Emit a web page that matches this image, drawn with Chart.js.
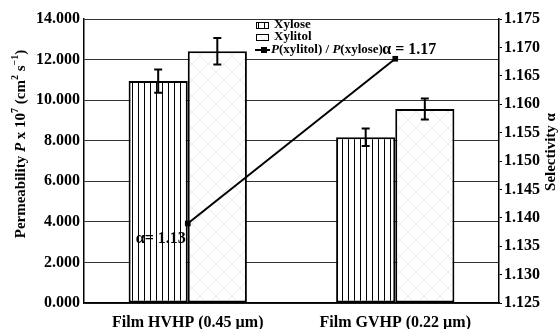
<!DOCTYPE html>
<html>
<head>
<meta charset="utf-8">
<script src="https://cdn.jsdelivr.net/npm/chart.js@4"></script>
<style>
  html, body { margin: 0; padding: 0; background: #fff; }
  #wrap { width: 560px; height: 329px; }
</style>
</head>
<body>
<div id="wrap"><canvas id="myChart" width="560" height="329"></canvas></div>
<script>
// values
const categories = ['Film HVHP (0.45 µm)', 'Film GVHP (0.22 µm)'];
const xylose = [10.94, 8.17];
const xyloseErr = [0.57, 0.43];
const xylitol = [12.41, 9.56];
const xylitolErr = [0.65, 0.52];
const selectivity = [1.139, 1.168];
const selectivityText = ['α= 1.13', 'α = 1.17'];
const seriesNames = ['Xylose', 'Xylitol', 'P(xylitol) / P(xylose)'];

const SERIF = "'Liberation Serif', 'Times New Roman', serif";

function vLines() {
  const c = document.createElement('canvas');
  c.width = 6; c.height = 6;
  const g = c.getContext('2d');
  g.fillStyle = '#fff'; g.fillRect(0, 0, 6, 6);
  g.fillStyle = '#000'; g.fillRect(0, 0, 1, 6);
  return g.createPattern(c, 'repeat');
}
function crossHatch() {
  const c = document.createElement('canvas');
  c.width = 16; c.height = 16;
  const g = c.getContext('2d');
  g.fillStyle = '#fff'; g.fillRect(0, 0, 16, 16);
  g.strokeStyle = '#ececec'; g.lineWidth = 1;
  g.beginPath();
  g.moveTo(0, 0); g.lineTo(16, 16);
  g.moveTo(16, 0); g.lineTo(0, 16);
  g.stroke();
  return g.createPattern(c, 'repeat');
}
const xylosePat = vLines();
const xylitolPat = crossHatch();

// draw text pieces in a row; pieces: [text, style]
function pieceFont(p, size) {
  const sup = p[1] === 'sup';
  const it = p[1] === 'it';
  return (it ? 'italic ' : '') + 'bold ' + (sup ? Math.round(size * 0.65) : size) + 'px ' + SERIF;
}
function drawPieces(ctx, pieces, x, y, size) {
  let cx = x;
  pieces.forEach(p => {
    ctx.font = pieceFont(p, size);
    ctx.fillText(p[0], cx, p[1] === 'sup' ? y - size * 0.35 : y);
    cx += ctx.measureText(p[0]).width;
  });
  return cx;
}
function piecesWidth(ctx, pieces, size) {
  let w = 0;
  pieces.forEach(p => {
    ctx.font = pieceFont(p, size);
    w += ctx.measureText(p[0]).width;
  });
  return w;
}

const errorBars = {
  id: 'errorBars',
  afterDatasetsDraw(chart) {
    const ctx = chart.ctx;
    const y = chart.scales.y;
    const errs = [xyloseErr, xylitolErr];
    ctx.save();
    ctx.strokeStyle = '#000';
    ctx.lineWidth = 2;
    [1, 2].forEach((di, k) => {
      const meta = chart.getDatasetMeta(di);
      meta.data.forEach((bar, i) => {
        const v = chart.data.datasets[di].data[i];
        const t = y.getPixelForValue(v + errs[k][i]);
        const b = y.getPixelForValue(v - errs[k][i]);
        ctx.beginPath();
        ctx.moveTo(bar.x, t); ctx.lineTo(bar.x, b);
        ctx.moveTo(bar.x - 4, t); ctx.lineTo(bar.x + 4, t);
        ctx.moveTo(bar.x - 4, b); ctx.lineTo(bar.x + 4, b);
        ctx.stroke();
      });
    });
    ctx.restore();
  }
};

const texts = {
  id: 'texts',
  afterDraw(chart) {
    const ctx = chart.ctx;
    ctx.save();
    ctx.fillStyle = '#000';
    ctx.textBaseline = 'middle';

    // left title
    const lt = [['Permeability '], ['P', 'it'], [' x 10'], ['7', 'sup'], [' (cm'], ['2', 'sup'], [' s'], ['−1', 'sup'], [')']];
    ctx.save();
    ctx.translate(21, 144);
    ctx.rotate(-Math.PI / 2);
    drawPieces(ctx, lt, -piecesWidth(ctx, lt, 15) / 2, 0, 15);
    ctx.restore();

    // right title
    const rt = [['Selectivity '], ['α']];
    ctx.save();
    ctx.translate(551, 152);
    ctx.rotate(-Math.PI / 2);
    drawPieces(ctx, rt, -piecesWidth(ctx, rt, 15) / 2, 0, 15);
    ctx.restore();

    // legend
    const lx = 256, ly = [25, 37, 50];
    [xylosePat, xylitolPat].forEach((pat, i) => {
      ctx.fillStyle = pat;
      ctx.fillRect(lx, ly[i] - 3, 13, 7);
      ctx.strokeStyle = '#000'; ctx.lineWidth = 1;
      ctx.strokeRect(lx + 0.5, ly[i] - 2.5, 12, 6);
    });
    ctx.fillStyle = '#000';
    ctx.beginPath();
    ctx.lineWidth = 2;
    ctx.moveTo(lx - 1, ly[2]); ctx.lineTo(lx + 14, ly[2]);
    ctx.stroke();
    ctx.fillRect(lx + 5, ly[2] - 3, 6, 6);
    drawPieces(ctx, [[seriesNames[0]]], lx + 18, ly[0], 13);
    drawPieces(ctx, [[seriesNames[1]]], lx + 18, ly[1], 13);
    drawPieces(ctx, [['P', 'it'], ['(xylitol) / '], ['P', 'it'], ['(xylose)']], lx + 15, ly[2], 13);

    // selectivity labels next to the points
    const pts = chart.getDatasetMeta(0).data;
    ctx.font = 'bold 16px ' + SERIF;
    ctx.textAlign = 'right';
    ctx.fillText(selectivityText[0], pts[0].x - 2, pts[0].y + 15);
    ctx.textAlign = 'left';
    ctx.fillText(selectivityText[1], pts[1].x - 13, pts[1].y - 9);
    ctx.restore();
  }
};

new Chart(document.getElementById('myChart'), {
  data: {
    labels: categories,
    datasets: [{
      type: 'line',
      label: seriesNames[2],
      data: selectivity,
      yAxisID: 'y1',
      order: 0,
      borderColor: '#000',
      borderWidth: 2,
      pointStyle: 'rect',
      pointRadius: 4,
      pointBackgroundColor: '#000',
      pointBorderColor: '#000',
      pointBorderWidth: 0
    }, {
      type: 'bar',
      label: seriesNames[0],
      data: xylose,
      yAxisID: 'y',
      order: 1,
      backgroundColor: xylosePat,
      borderColor: '#000',
      borderWidth: 2,
      borderSkipped: false
    }, {
      type: 'bar',
      label: seriesNames[1],
      data: xylitol,
      yAxisID: 'y',
      order: 1,
      backgroundColor: xylitolPat,
      borderColor: '#000',
      borderWidth: 2,
      borderSkipped: false
    }]
  },
  options: {
    responsive: false,
    animation: false,
    devicePixelRatio: 1,
    categoryPercentage: 0.57,
    barPercentage: 1,
    layout: { padding: { top: 19, left: 0, right: 0, bottom: 0 } },
    plugins: { legend: { display: false }, tooltip: { enabled: false } },
    scales: {
      x: {
        afterFit: s => { s.height = 26; },
        grid: { display: false },
        border: { display: true, color: '#000', width: 1.5 },
        ticks: { color: '#000', padding: 2, font: { family: SERIF, size: 16, weight: 'bold' } }
      },
      y: {
        position: 'left',
        min: 0, max: 14,
        afterFit: s => { s.width = 84; },
        grid: { color: '#333', lineWidth: 1, drawTicks: false },
        border: { display: true, color: '#000', width: 1.5 },
        ticks: {
          stepSize: 2, padding: 4, color: '#000',
          font: { family: SERIF, size: 16, weight: 'bold' },
          callback: v => v.toFixed(3)
        }
      },
      y1: {
        position: 'right',
        min: 1.125, max: 1.175,
        afterFit: s => { s.width = 61; },
        grid: { drawOnChartArea: false, color: '#000', tickLength: 3 },
        border: { display: true, color: '#000', width: 1.5 },
        ticks: {
          stepSize: 0.005, padding: 2, color: '#000',
          font: { family: SERIF, size: 16, weight: 'bold' },
          callback: v => v.toFixed(3)
        }
      }
    }
  },
  plugins: [errorBars, texts]
});
</script>
</body>
</html>
